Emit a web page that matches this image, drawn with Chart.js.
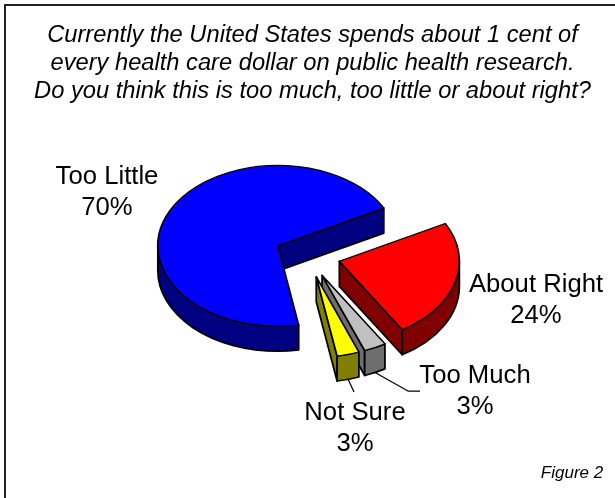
<!DOCTYPE html>
<html>
<head>
<meta charset="utf-8">
<title>Public health research spending</title>
<script src="https://cdn.jsdelivr.net/npm/chart.js@4"></script>
<style>
    html, body { margin: 0; padding: 0; background: #fff; }
    canvas { display: block; }
</style>
</head>
<body>
<canvas id="chart" width="615" height="498"></canvas>
<script>
const categories = ['Too Little', 'About Right', 'Too Much', 'Not Sure'];
const shares = [70, 24, 3, 3];
const topColors = ['#0000ff', '#ff0000', '#c0c0c0', '#ffff00'];
const wallColors = ['#000080', '#800000', '#6e6e6e', '#808000'];

const questionLines = [
    'Currently the United States spends about 1 cent of',
    'every health care dollar on public health research.',
    'Do you think this is too much, too little or about right?'
];
const figureLabel = 'Figure 2';

// where each label sits, [x, first line y]
const labelSpots = [[107, 177], [536, 285], [475, 376], [355, 413]];
// leader lines end here, in slice order (null = no leader)
const leaderEnds = [null, null, [[408, 391], [420, 391]], [[354, 392]]];

const RADIUS = 120;
const EXPLODE = 33;   // px each slice moves away from the centre
const FLAT = 0.67;    // squash of the pie's disc
const DEPTH = 25;     // height of the walls
const LINE = 1.75;

function sliceCenter(arc) {
    const mid = (arc.startAngle + arc.endAngle) / 2;
    return {
        x: arc.x + Math.cos(mid) * EXPLODE,
        y: arc.y + Math.sin(mid) * EXPLODE * FLAT
    };
}

function drawWalls(ctx, arc, index) {
    const c = sliceCenter(arc);
    const r = RADIUS;

    ctx.fillStyle = wallColors[index];
    ctx.strokeStyle = '#000';
    ctx.lineWidth = LINE;
    ctx.lineJoin = 'round';

    // flat wall along the slice's closing edge, it only faces us on the right half
    if (Math.cos(arc.endAngle) > 0) {
        const px = c.x + Math.cos(arc.endAngle) * r;
        const py = c.y + Math.sin(arc.endAngle) * r * FLAT;
        ctx.beginPath();
        ctx.moveTo(c.x, c.y);
        ctx.lineTo(px, py);
        ctx.lineTo(px, py + DEPTH);
        ctx.lineTo(c.x, c.y + DEPTH);
        ctx.closePath();
        ctx.fill();
        ctx.stroke();
    }

    // curved wall, only the part on the front half of the disc
    for (let k = -1; k <= 1; k++) {
        const a0 = Math.max(arc.startAngle, k * 2 * Math.PI);
        const a1 = Math.min(arc.endAngle, k * 2 * Math.PI + Math.PI);
        if (a1 <= a0) continue;
        ctx.beginPath();
        ctx.ellipse(c.x, c.y, r, r * FLAT, 0, a0, a1);
        ctx.ellipse(c.x, c.y + DEPTH, r, r * FLAT, 0, a1, a0, true);
        ctx.closePath();
        ctx.fill();
        ctx.stroke();
    }
}

function drawLeader(ctx, arc, points) {
    const c = sliceCenter(arc);
    const mid = (arc.startAngle + arc.endAngle) / 2;
    ctx.strokeStyle = '#000';
    ctx.lineWidth = 1.25;
    ctx.beginPath();
    ctx.moveTo(c.x + Math.cos(mid) * RADIUS,
               c.y + Math.sin(mid) * RADIUS * FLAT + DEPTH);
    points.forEach(p => ctx.lineTo(p[0], p[1]));
    ctx.stroke();
}

const tiltedPie = {
    id: 'tiltedPie',
    beforeDraw(chart) {
        // only the top and left rules of the frame show
        const ctx = chart.ctx;
        ctx.save();
        ctx.fillStyle = '#222';
        ctx.fillRect(4, 4, 611, 2);
        ctx.fillRect(4, 4, 2, 494);
        ctx.restore();
    },
    beforeDatasetsDraw(chart) {
        const ctx = chart.ctx;
        const arcs = chart.getDatasetMeta(0).data;
        ctx.save();
        arcs.forEach((arc, i) => drawWalls(ctx, arc, i));
        arcs.forEach((arc, i) => {
            if (leaderEnds[i]) drawLeader(ctx, arc, leaderEnds[i]);
        });
        ctx.restore();
        // ArcElement changes radius and trims the angles when offset is set,
        // undo both so the faces line up with the walls
        arcs.forEach(arc => {
            const fix = 1 - Math.sin(Math.min(Math.PI, arc.circumference));
            const trim = (EXPLODE * fix) / (2 * Math.PI * RADIUS);
            arc.outerRadius = RADIUS - EXPLODE * fix;
            arc.trueAngles = [arc.startAngle, arc.endAngle];
            arc.startAngle -= trim;
            arc.endAngle += trim;
        });
        // the library's arcs become the top faces
        ctx.save();
        ctx.translate(0, arcs[0].y);
        ctx.scale(1, FLAT);
        ctx.translate(0, -arcs[0].y);
    },
    afterDatasetsDraw(chart) {
        chart.ctx.restore();
        chart.getDatasetMeta(0).data.forEach(arc => {
            [arc.startAngle, arc.endAngle] = arc.trueAngles;
        });
    },
    afterDraw(chart) {
        const ctx = chart.ctx;
        ctx.save();
        ctx.fillStyle = '#000';
        ctx.textAlign = 'center';
        ctx.textBaseline = 'middle';

        ctx.font = 'italic 23.7px "Liberation Sans"';
        questionLines.forEach((line, i) => ctx.fillText(line, 312.5, 35 + i * 28));

        ctx.font = '25.7px "Liberation Sans"';
        categories.forEach((name, i) => {
            const spot = labelSpots[i];
            ctx.fillText(name, spot[0], spot[1]);
            ctx.fillText(shares[i] + '%', spot[0], spot[1] + 31);
        });

        ctx.font = 'italic 17px "Liberation Sans"';
        ctx.fillText(figureLabel, 572, 473);
        ctx.restore();
    }
};

const chart = new Chart(document.getElementById('chart'), {
    type: 'pie',
    plugins: [tiltedPie],
    data: {
        labels: categories,
        datasets: [{
            data: shares,
            backgroundColor: topColors,
            borderColor: '#000',
            borderWidth: LINE,
            borderJoinStyle: 'round',
            offset: EXPLODE * 4    // ArcElement moves a slice by offset/4
        }]
    },
    options: {
        responsive: false,
        animation: false,
        events: [],
        rotation: 170,
        radius: RADIUS,
        layout: { padding: { top: 13 } },
        plugins: {
            legend: { display: false },
            tooltip: { enabled: false }
        }
    }
});
</script>
</body>
</html>
